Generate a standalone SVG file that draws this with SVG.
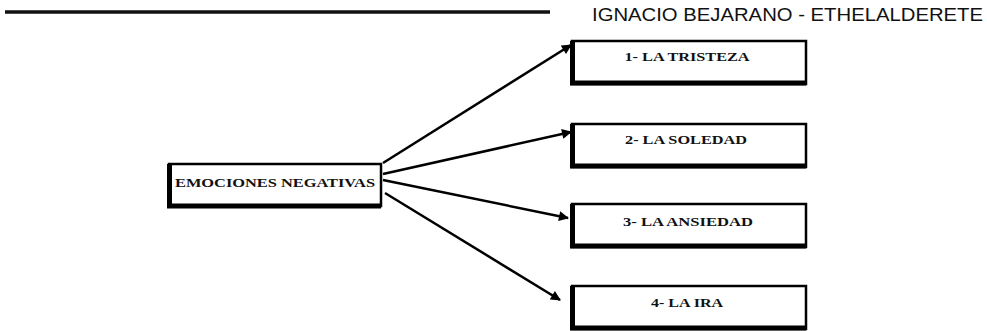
<svg xmlns="http://www.w3.org/2000/svg" width="987" height="331" viewBox="0 0 987 331">
<defs>
<style>
.box{fill:#fff;stroke:#000;stroke-width:2.5}
.sh{fill:none;stroke:#000;stroke-width:5}
.lbl{font-family:"Liberation Serif",serif;font-weight:bold;font-size:13px;fill:#111}
.con{stroke:#000;stroke-width:2.5;fill:none;marker-end:url(#ah)}
</style>
<marker id="ah" viewBox="0 0 10 10" refX="9" refY="5" markerWidth="4.5" markerHeight="4" orient="auto" markerUnits="strokeWidth">
<path d="M0,0 L10,5 L0,10 Z" fill="#000"/>
</marker>
</defs>
<rect width="987" height="331" fill="#fff"/>
<g id="header">
<line x1="5" y1="12" x2="550" y2="12" stroke="#111" stroke-width="3.5"/>
<text x="592" y="21" font-family="Liberation Sans, Arial, sans-serif" font-size="18.5" fill="#111" textLength="391" lengthAdjust="spacingAndGlyphs">IGNACIO BEJARANO - ETHELALDERETE</text>
</g>
<g id="connectors">
<line class="con" x1="383" y1="163" x2="571" y2="45"/>
<line class="con" x1="383" y1="174" x2="571" y2="132"/>
<line class="con" x1="383" y1="180" x2="568" y2="218"/>
<line class="con" x1="385" y1="193" x2="560" y2="300"/>
</g>
<g id="n0">
<rect class="box" x="169" y="164" width="212" height="42"/>
<path class="sh" d="M169.5,164 V206 H381"/>
<text class="lbl" x="275" y="187" text-anchor="middle" textLength="200" lengthAdjust="spacingAndGlyphs">EMOCIONES NEGATIVAS</text>
</g>
<g id="n1">
<rect class="box" x="572" y="41" width="234" height="43"/>
<path class="sh" d="M572.5,41 V83 H806"/>
<text class="lbl" x="687" y="61" text-anchor="middle" textLength="125" lengthAdjust="spacingAndGlyphs">1- LA TRISTEZA</text>
</g>
<g id="n2">
<rect class="box" x="572" y="124" width="234" height="43"/>
<path class="sh" d="M572.5,124 V166 H806"/>
<text class="lbl" x="686" y="144" text-anchor="middle" textLength="122" lengthAdjust="spacingAndGlyphs">2- LA SOLEDAD</text>
</g>
<g id="n3">
<rect class="box" x="572" y="204" width="234" height="43"/>
<path class="sh" d="M572.5,204 V246 H806"/>
<text class="lbl" x="688" y="226" text-anchor="middle" textLength="130" lengthAdjust="spacingAndGlyphs">3- LA ANSIEDAD</text>
</g>
<g id="n4">
<rect class="box" x="572" y="286" width="234" height="43"/>
<path class="sh" d="M572.5,286 V328 H806"/>
<text class="lbl" x="687" y="307" text-anchor="middle" textLength="72" lengthAdjust="spacingAndGlyphs">4- LA IRA</text>
</g>
</svg>
